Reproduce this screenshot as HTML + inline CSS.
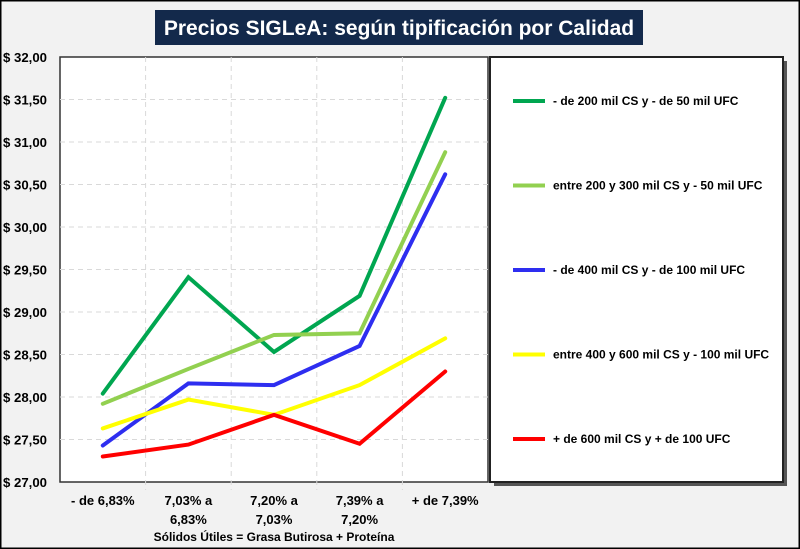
<!DOCTYPE html>
<html><head><meta charset="utf-8"><style>
body{margin:0;background:#fff}
#wrap{position:relative;width:800px;height:549px;overflow:hidden;font-family:"Liberation Sans",sans-serif}
</style></head><body>
<div id="wrap">
<svg id="chart" width="800" height="549" xmlns="http://www.w3.org/2000/svg">
<rect x="0.5" y="0.5" width="799" height="548" fill="#f2f2f2" stroke="#000" stroke-width="2"/>
<rect x="155" y="10" width="488" height="35" fill="#13294b"/>
<text x="399" y="35" text-anchor="middle" font-size="21" font-weight="bold" fill="#fff">Precios SIGLeA: según tipificación por Calidad</text>
<rect x="60" y="57" width="428" height="425" fill="#fff" stroke="#333" stroke-width="1.5"/>
<g id="grid"></g><g id="yticks"></g><g id="xticks"></g><g id="series"></g>
<text x="274" y="541" text-anchor="middle" font-size="12" font-weight="bold" fill="#000">Sólidos Útiles = Grasa Butirosa + Proteína</text>
<rect x="494" y="61" width="293" height="425" fill="#555"/>
<rect x="490" y="57" width="293" height="425" fill="#fff" stroke="#222" stroke-width="2"/>
<g id="legend"></g>
</svg>
</div>
<script>
const categories=[["- de 6,83%"],["7,03% a","6,83%"],["7,20% a","7,03%"],["7,39% a","7,20%"],["+ de 7,39%"]];
const seriesNames=["- de 200 mil CS y - de 50 mil UFC","entre 200 y 300 mil CS y - 50 mil UFC","- de 400 mil CS y - de 100 mil UFC","entre 400 y 600 mil CS y - 100 mil UFC","+ de 600 mil CS y + de 100 UFC"];
const seriesColors=["#00a650","#92d050","#2e2ef0","#ffff00","#ff0000"];
const s1=[28.04,29.41,28.53,29.19,31.52];
const s2=[27.92,28.33,28.73,28.75,30.88];
const s3=[27.43,28.16,28.14,28.60,30.62];
const s4=[27.63,27.97,27.79,28.14,28.69];
const s5=[27.30,27.44,27.79,27.45,28.30];
const yTicks=[27,27.5,28,28.5,29,29.5,30,30.5,31,31.5,32];
const yLabels=["$ 27,00","$ 27,50","$ 28,00","$ 28,50","$ 29,00","$ 29,50","$ 30,00","$ 30,50","$ 31,00","$ 31,50","$ 32,00"];
const NS="http://www.w3.org/2000/svg";
const X0=60,X1=488,Y0=482,Y1=57;
const step=(X1-X0)/categories.length;
const xPos=i=>X0+step*(i+0.5);
const yPos=v=>Y0-(v-27)/(32-27)*(Y0-Y1);
function mk(tag,attrs,parent){const e=document.createElementNS(NS,tag);for(const k in attrs)e.setAttribute(k,attrs[k]);parent.appendChild(e);return e;}
const grid=document.getElementById('grid'),yt=document.getElementById('yticks'),xt=document.getElementById('xticks'),sg=document.getElementById('series'),lg=document.getElementById('legend');
yTicks.forEach((v,i)=>{
 if(i>0&&i<yTicks.length-1){const l=mk('line',{x1:X0,x2:X1,y1:yPos(v),y2:yPos(v),stroke:'#d9d9d9','stroke-dasharray':'5,4'},grid);
 
 }
 const t=mk('text',{x:3,y:yPos(v)+5,'font-size':13,fill:'#000','font-weight':'bold','textLength':44,'lengthAdjust':'spacingAndGlyphs'},yt);t.textContent=yLabels[i];
 
 
});
categories.forEach((c,i)=>{
 if(i>0){const x=X0+step*i;const l=mk('line',{x1:x,x2:x,y1:Y1,y2:Y0+8,stroke:'#d9d9d9','stroke-dasharray':'5,4'},grid);
 
 }
 c.forEach((line,j)=>{const t=mk('text',{x:xPos(i),y:505+j*19,'text-anchor':'middle','font-size':13,'font-weight':'bold',fill:'#000'},xt);t.textContent=line;
 
 });
});
[s1,s2,s3,s4,s5].forEach((s,k)=>{
 const p=mk('polyline',{points:s.map((v,i)=>xPos(i)+','+yPos(v)).join(' '),fill:'none',stroke:seriesColors[k],'stroke-width':4,'stroke-linejoin':'miter','stroke-linecap':'round'},sg);
 
 
 const ly=101+k*84.5;
 const l=mk('line',{x1:513,x2:545,y1:ly,y2:ly,stroke:seriesColors[k],'stroke-width':4},lg);
 
 
 const t=mk('text',{x:553,y:ly+4,'font-size':12,'font-weight':'bold',fill:'#000'},lg);t.textContent=seriesNames[k];
 
 
});
</script>
</body></html>
